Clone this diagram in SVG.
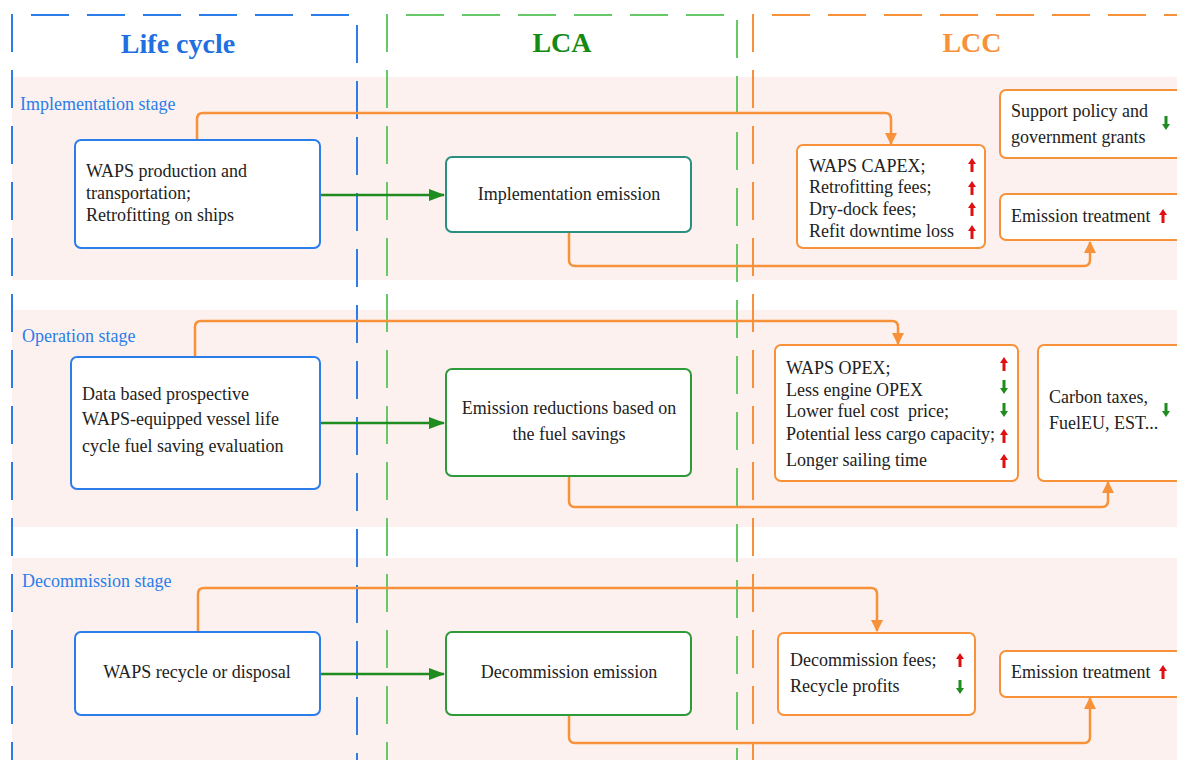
<svg xmlns="http://www.w3.org/2000/svg" width="1177" height="760" viewBox="0 0 1177 760">
<style>
.t{font-family:"Liberation Serif","Times New Roman",serif;font-size:18px;fill:#222}
.st{font-family:"Liberation Serif","Times New Roman",serif;font-size:18px;fill:#2b7de9}
.title{font-family:"Liberation Serif","Times New Roman",serif;font-size:28px;font-weight:bold}
.band{fill:#fcf1ef}
.cont{fill:none;stroke-width:2;stroke-dasharray:38 18}
.nb{fill:#fff;stroke:#2b7de9;stroke-width:2}
.ng{fill:#fff;stroke:#2e9a3a;stroke-width:2}
.nt{fill:#fff;stroke:#2a8f7f;stroke-width:2}
.no{fill:#fff;stroke:#f7923a;stroke-width:2}
.co{fill:none;stroke:#f7923a;stroke-width:2.5}
.cg{fill:none;stroke:#1e8c1e;stroke-width:2.5}
</style>
<defs>
<marker id="ao" markerWidth="12" markerHeight="14" refX="11" refY="6" orient="auto" markerUnits="userSpaceOnUse"><path d="M0,0 L12,6 L0,12 Z" fill="#f7923a"/></marker>
<marker id="ag" markerWidth="16" markerHeight="12" refX="15" refY="6" orient="auto" markerUnits="userSpaceOnUse"><path d="M0,0 L16,6 L0,12 Z" fill="#1e8c1e"/></marker>
<g id="up"><rect x="-1.5" y="-2" width="3" height="9" fill="#e01010"/><path d="M-4,-1 L0,-7 L4,-1 Z" fill="#e01010"/></g>
<g id="dn"><rect x="-1.5" y="-7" width="3" height="9" fill="#1e8c1e"/><path d="M-4,1 L0,7 L4,1 Z" fill="#1e8c1e"/></g>
</defs>
<rect width="1177" height="760" fill="#fff"/>
<g id="bands">
<rect class="band" x="12" y="77" width="1165" height="203"/>
<rect class="band" x="12" y="310" width="1165" height="217"/>
<rect class="band" x="12" y="558" width="1165" height="202"/>
</g>
<g id="containers">
<path class="cont" stroke="#2b7de9" d="M12,780 V15 H357 V780"/>
<path class="cont" stroke="#66c866" d="M387,780 V15 H737 V780"/>
<path class="cont" stroke="#f7923a" d="M753,780 V15 H1190"/>
<text class="title" x="178" y="53" text-anchor="middle" fill="#1f6fe0">Life cycle</text>
<text class="title" x="562" y="52" text-anchor="middle" fill="#138a13">LCA</text>
<text class="title" x="972" y="52" text-anchor="middle" fill="#f7923a">LCC</text>
</g>
<g id="stage-labels">
<text class="st" x="20" y="110">Implementation stage</text>
<text class="st" x="22" y="342">Operation stage</text>
<text class="st" x="22" y="587">Decommission stage</text>
</g>
<g id="connectors">
<path class="cg" d="M320,195 H444" marker-end="url(#ag)"/>
<path class="cg" d="M320,423 H444" marker-end="url(#ag)"/>
<path class="cg" d="M320,674 H444" marker-end="url(#ag)"/>
<path class="co" d="M197,140 V119 Q197,113 203,113 H885 Q891,113 891,119 V144" marker-end="url(#ao)"/>
<path class="co" d="M569,232 V260 Q569,266 575,266 H1084 Q1090,266 1090,260 V242" marker-end="url(#ao)"/>
<path class="co" d="M195,357 V327 Q195,321 201,321 H892 Q898,321 898,327 V344" marker-end="url(#ao)"/>
<path class="co" d="M569,476 V501 Q569,507 575,507 H1102 Q1108,507 1108,501 V482" marker-end="url(#ao)"/>
<path class="co" d="M198,632 V594 Q198,588 204,588 H871 Q877,588 877,594 V631" marker-end="url(#ao)"/>
<path class="co" d="M569,715 V737 Q569,743 575,743 H1084 Q1090,743 1090,737 V698" marker-end="url(#ao)"/>
</g>
<g id="n-impl-lc">
<rect class="nb" x="75" y="140" width="245" height="108" rx="6"/>
<text class="t" x="86" y="177">WAPS production and</text>
<text class="t" x="86" y="199">transportation;</text>
<text class="t" x="86" y="221">Retrofitting on ships</text>
</g>
<g id="n-impl-lca">
<rect class="nt" x="446" y="157" width="245" height="75" rx="6"/>
<text class="t" x="569" y="200" text-anchor="middle">Implementation emission</text>
</g>
<g id="n-capex">
<rect class="no" x="797" y="145" width="188" height="103" rx="6"/>
<text class="t" x="809" y="172">WAPS CAPEX;</text>
<text class="t" x="809" y="193">Retrofitting fees;</text>
<text class="t" x="809" y="215">Dry-dock fees;</text>
<text class="t" x="809" y="237">Refit downtime loss</text>
<use href="#up" x="972" y="165"/>
<use href="#up" x="972" y="188"/>
<use href="#up" x="972" y="209"/>
<use href="#up" x="972" y="232"/>
</g>
<g id="n-support">
<rect class="no" x="1000" y="90" width="185" height="68" rx="6"/>
<text class="t" x="1011" y="117">Support policy and</text>
<text class="t" x="1011" y="143">government grants</text>
<use href="#dn" x="1166" y="123"/>
</g>
<g id="n-emis1">
<rect class="no" x="1000" y="194" width="185" height="46" rx="6"/>
<text class="t" x="1011" y="222">Emission treatment</text>
<use href="#up" x="1163" y="216"/>
</g>
<g id="n-op-lc">
<rect class="nb" x="71" y="357" width="249" height="132" rx="6"/>
<text class="t" x="82" y="400">Data based prospective</text>
<text class="t" x="82" y="425">WAPS-equipped vessel life</text>
<text class="t" x="82" y="452">cycle fuel saving evaluation</text>
</g>
<g id="n-op-lca">
<rect class="ng" x="446" y="369" width="245" height="107" rx="6"/>
<text class="t" x="569" y="414" text-anchor="middle">Emission reductions based on</text>
<text class="t" x="569" y="440" text-anchor="middle">the fuel savings</text>
</g>
<g id="n-opex">
<rect class="no" x="775" y="345" width="243" height="136" rx="6"/>
<text class="t" x="786" y="374">WAPS OPEX;</text>
<text class="t" x="786" y="396">Less engine OPEX</text>
<text class="t" x="786" y="417">Lower fuel cost&#160; price;</text>
<text class="t" x="786" y="440">Potential less cargo capacity;</text>
<text class="t" x="786" y="466">Longer sailing time</text>
<use href="#up" x="1004" y="364"/>
<use href="#dn" x="1004" y="387"/>
<use href="#dn" x="1004" y="410"/>
<use href="#up" x="1004" y="436"/>
<use href="#up" x="1004" y="461"/>
</g>
<g id="n-carbon">
<rect class="no" x="1038" y="345" width="145" height="136" rx="6"/>
<text class="t" x="1049" y="403">Carbon taxes,</text>
<text class="t" x="1049" y="429">FuelEU, EST...</text>
<use href="#dn" x="1166" y="410"/>
</g>
<g id="n-dec-lc">
<rect class="nb" x="75" y="632" width="245" height="83" rx="6"/>
<text class="t" x="197" y="678" text-anchor="middle">WAPS recycle or disposal</text>
</g>
<g id="n-dec-lca">
<rect class="ng" x="446" y="632" width="245" height="83" rx="6"/>
<text class="t" x="569" y="678" text-anchor="middle">Decommission emission</text>
</g>
<g id="n-decfees">
<rect class="no" x="778" y="633" width="197" height="82" rx="6"/>
<text class="t" x="790" y="666">Decommission fees;</text>
<text class="t" x="790" y="692">Recycle profits</text>
<use href="#up" x="960" y="660"/>
<use href="#dn" x="960" y="687"/>
</g>
<g id="n-emis3">
<rect class="no" x="1000" y="651" width="185" height="46" rx="6"/>
<text class="t" x="1011" y="678">Emission treatment</text>
<use href="#up" x="1163" y="672"/>
</g>
</svg>
